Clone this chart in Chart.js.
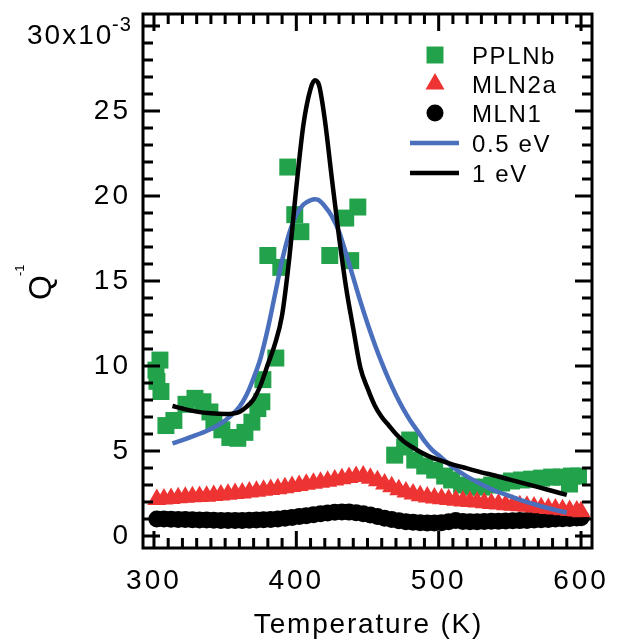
<!DOCTYPE html>
<html>
<head>
<meta charset="utf-8">
<script src="https://cdn.jsdelivr.net/npm/chart.js@4.4.0/dist/chart.umd.min.js"></script>
<style>
  html, body { margin: 0; padding: 0; background: #fff; }
  canvas { display: block; }
</style>
</head>
<body>
<canvas id="chart" width="617" height="643"></canvas>
<script>
// Internal friction Q^-1 (x10^-3) vs temperature (K)

// PPLNb (green squares)
const pplnbT = [301.4, 304.2, 302.1, 304.9, 308.4, 314.0, 322.5, 328.8, 334.4, 339.3, 342.1, 347.7, 353.3, 358.9,
  363.9, 368.8, 373.0, 375.8, 376.5, 385.6, 380.0, 389.1, 394.0, 398.9, 403.2, 423.5, 434.7, 438.2, 443.2,
  469.1, 476.1, 479.6, 483.2, 490.2, 497.2, 504.2, 509.1, 516.1, 523.2, 530.2, 537.2, 544.2, 551.2, 558.2,
  565.3, 572.3, 579.3, 586.3, 591.9, 593.3, 598.2];
const pplnbQ = [9.76, 10.35, 9.1, 8.5, 6.5, 6.8, 7.75, 8.1, 7.9, 7.3, 6.7, 6.25, 5.8, 5.75,
  6.1, 6.7, 7.5, 7.9, 9.2, 10.47, 16.5, 15.8, 21.7, 18.9, 17.9, 16.5, 18.7, 16.2, 19.35,
  4.76, 5.24, 5.65, 4.47, 4.12, 3.88, 3.53, 3.3, 3.0, 2.88, 2.88, 3.0, 3.12, 3.24, 3.3,
  3.35, 3.41, 3.47, 3.47, 3.06, 3.53, 3.53];

// MLN2a (red triangles)
const mln2aT = [302, 307, 312, 317, 322, 327, 332, 337, 342, 347, 352, 357, 362, 367, 372, 377, 382, 387, 392, 397,
  402, 407, 412, 417, 422, 427, 432, 437, 442, 447, 452, 457, 462, 467, 472, 477, 482, 487, 492, 497,
  502, 507, 512, 517, 522, 527, 532, 537, 542, 547, 552, 557, 562, 567, 572, 577, 582, 587, 592, 597, 600];
const mln2aQ = [2.15, 2.18, 2.21, 2.25, 2.28, 2.31, 2.33, 2.35, 2.38, 2.42, 2.46, 2.5, 2.54, 2.59, 2.64, 2.69, 2.74, 2.79, 2.84, 2.91,
  2.98, 3.05, 3.11, 3.17, 3.23, 3.3, 3.37, 3.44, 3.51, 3.53, 3.4, 3.25, 3.07, 2.9, 2.73, 2.59, 2.47, 2.37, 2.3, 2.24,
  2.19, 2.15, 2.11, 2.07, 2.04, 2.0, 1.96, 1.92, 1.88, 1.85, 1.82, 1.79, 1.75, 1.71, 1.67, 1.63, 1.59, 1.55, 1.51, 1.47, 1.43];

// MLN1 (black circles)
const mln1T = [302, 307, 312, 317, 322, 327, 332, 337, 342, 347, 352, 357, 362, 367, 372, 377, 382, 387, 392, 397,
  402, 407, 412, 417, 422, 427, 432, 437, 442, 447, 452, 457, 462, 467, 472, 477, 482, 487, 492, 497,
  502, 507, 512, 517, 522, 527, 532, 537, 542, 547, 552, 557, 562, 567, 572, 577, 582, 587, 592, 597, 600];
const mln1Q = [1.0, 1.0, 0.99, 0.98, 0.97, 0.96, 0.95, 0.94, 0.93, 0.92, 0.92, 0.92, 0.92, 0.93, 0.94, 0.96, 0.98, 1.01, 1.05, 1.1,
  1.15, 1.2, 1.26, 1.31, 1.36, 1.4, 1.42, 1.41, 1.38, 1.32, 1.24, 1.15, 1.05, 0.97, 0.9, 0.85, 0.81, 0.78, 0.77, 0.77,
  0.79, 0.84, 0.92, 0.86, 0.84, 0.85, 0.86, 0.87, 0.88, 0.89, 0.9, 0.91, 0.92, 0.94, 0.96, 0.98, 1.0, 1.02, 1.04, 1.06, 1.08];

// 0.5 eV fit (blue line)
const fit05T = [313, 320, 330, 340, 350, 360, 365, 370, 375, 380, 385, 390, 395, 400, 405, 410, 413, 415, 420, 425,
  430, 435, 440, 445, 450, 455, 460, 465, 470, 475, 480, 485, 490, 495, 500, 510, 520, 530, 540, 550, 560, 570, 580, 590];
const fit05Q = [5.45, 5.65, 5.95, 6.3, 6.8, 7.6, 8.3, 9.3, 10.5, 12.2, 14.2, 16.2, 17.8, 18.9, 19.5, 19.75, 19.8, 19.78, 19.4, 18.8,
  17.9, 16.6, 15.2, 13.8, 12.5, 11.3, 10.2, 9.2, 8.3, 7.5, 6.8, 6.2, 5.6, 5.1, 4.75, 4.05, 3.5, 3.05, 2.65, 2.35, 2.05, 1.8, 1.58, 1.38];

// 1 eV fit (black line)
const fit1T = [313, 320, 330, 340, 350, 355, 360, 365, 370, 375, 380, 385, 390, 395, 400, 405, 410, 413, 416, 420,
  425, 430, 435, 440, 445, 450, 455, 460, 465, 470, 475, 480, 485, 490, 495, 500, 510, 520, 530, 540, 550, 560, 570, 580, 590];
const fit1Q = [7.65, 7.5, 7.32, 7.22, 7.18, 7.2, 7.3, 7.6, 8.05, 8.9, 10.1, 11.3, 13.0, 16.3, 20.5, 24.2, 26.3, 26.8, 26.5, 24.5,
  21.0, 17.6, 14.6, 12.2, 9.9, 8.7, 7.7, 7.0, 6.5, 6.0, 5.6, 5.3, 5.05, 4.82, 4.63, 4.48, 4.2, 3.98, 3.75, 3.55, 3.32, 3.1, 2.88, 2.65, 2.42];

const xTicks = [300, 400, 500, 600];
const yTicks = [0, 5, 10, 15, 20, 25, 30];

const FONT = '"Liberation Sans", Arial, Helvetica, sans-serif';
const GREEN = '#22a34b';
const RED = '#ee3333';
const BLUE = '#4a6fbd';

function toPoints(xs, ys) {
    return xs.map((x, i) => ({ x: x, y: ys[i] }));
}

// fixed axis boxes so the plot frame lands where the original has it
function fixBox(scale, size) {
    if (scale.isHorizontal()) {
        scale.height = size;
    } else {
        scale.width = size;
    }
    scale.paddingTop = 0;
    scale.paddingBottom = 0;
    scale.paddingLeft = 0;
    scale.paddingRight = 0;
}

const legendItems = [
    { text: 'PPLNb', kind: 'point', style: 'rect', radius: 12, color: GREEN },
    { text: 'MLN2a', kind: 'point', style: 'triangle', radius: 11, color: RED },
    { text: 'MLN1', kind: 'point', style: 'circle', radius: 8.5, color: '#000' },
    { text: '0.5 eV', kind: 'line', color: BLUE },
    { text: '1 eV', kind: 'line', color: '#000' }
];

// frame, inward ticks, titles and legend
const framePlugin = {
    id: 'framePlugin',
    beforeDraw(chart) {
        chart.ctx.letterSpacing = '3px';
    },
    afterDraw(chart) {
        const ctx = chart.ctx;
        const area = chart.chartArea;
        const xs = chart.scales.x;
        const ys = chart.scales.y;
        ctx.save();
        ctx.strokeStyle = '#000';
        ctx.lineWidth = 3;
        ctx.strokeRect(area.left, area.top, area.right - area.left, area.bottom - area.top);

        ctx.beginPath();
        for (let t = 300; t <= 600; t += 10) {
            const px = xs.getPixelForValue(t);
            const len = t % 100 === 0 ? 17 : 10;
            ctx.moveTo(px, area.bottom);
            ctx.lineTo(px, area.bottom - len);
            ctx.moveTo(px, area.top);
            ctx.lineTo(px, area.top + len);
        }
        for (let v = 0; v <= 30; v += 1) {
            const py = ys.getPixelForValue(v);
            const len = v % 5 === 0 ? 17 : 10;
            ctx.moveTo(area.left, py);
            ctx.lineTo(area.left + len, py);
            ctx.moveTo(area.right, py);
            ctx.lineTo(area.right - len, py);
        }
        ctx.stroke();

        ctx.fillStyle = '#000';
        ctx.textBaseline = 'alphabetic';

        // top y label with exponent
        ctx.textAlign = 'left';
        ctx.letterSpacing = '2px';
        ctx.font = '28px ' + FONT;
        ctx.fillText('30x10', 27, 44);
        ctx.font = '20px ' + FONT;
        ctx.letterSpacing = '1px';
        ctx.fillText('-3', 112, 31);

        // x title
        ctx.font = '28px ' + FONT;
        ctx.letterSpacing = '1.8px';
        ctx.textAlign = 'center';
        ctx.fillText('Temperature (K)', (area.left + area.right) / 2 + 1, 633);

        // y title
        ctx.save();
        ctx.translate(51, 300);
        ctx.rotate(-Math.PI / 2);
        ctx.textAlign = 'left';
        ctx.letterSpacing = '0px';
        ctx.font = '32px ' + FONT;
        ctx.fillText('Q', 0, 0);
        ctx.font = '13px ' + FONT;
        ctx.fillText('-1', 24, -27);
        ctx.restore();

        // legend
        const rows = [55, 84, 113, 143, 173];
        ctx.font = '24px ' + FONT;
        ctx.letterSpacing = '1.6px';
        ctx.textAlign = 'left';
        legendItems.forEach((item, i) => {
            const y = rows[i];
            if (item.kind === 'point') {
                ctx.fillStyle = item.color;
                ctx.strokeStyle = item.color;
                Chart.helpers.drawPoint(ctx, { pointStyle: item.style, radius: item.radius, rotation: 0, borderWidth: 0 }, 435, y);
            } else {
                ctx.strokeStyle = item.color;
                ctx.lineWidth = 4.5;
                ctx.beginPath();
                ctx.moveTo(410, y);
                ctx.lineTo(459, y);
                ctx.stroke();
            }
            ctx.fillStyle = '#000';
            ctx.fillText(item.text, 472, y + 8.5);
        });
        ctx.restore();
    }
};

const tickFont = { family: FONT, size: 28 };

new Chart(document.getElementById('chart'), {
    type: 'scatter',
    data: {
        datasets: [
            {
                label: '1 eV',
                data: toPoints(fit1T, fit1Q),
                showLine: true,
                borderColor: '#000',
                borderWidth: 4.5,
                pointRadius: 0,
                cubicInterpolationMode: 'monotone'
            },
            {
                label: '0.5 eV',
                data: toPoints(fit05T, fit05Q),
                showLine: true,
                borderColor: BLUE,
                borderWidth: 4.5,
                pointRadius: 0,
                cubicInterpolationMode: 'monotone'
            },
            {
                label: 'MLN2a',
                data: toPoints(mln2aT, mln2aQ),
                pointStyle: 'triangle',
                pointRadius: 11,
                backgroundColor: RED,
                borderColor: RED,
                borderWidth: 0
            },
            {
                label: 'MLN1',
                data: toPoints(mln1T, mln1Q),
                pointStyle: 'circle',
                pointRadius: 8.5,
                backgroundColor: '#000',
                borderColor: '#000',
                borderWidth: 0
            },
            {
                label: 'PPLNb',
                data: toPoints(pplnbT, pplnbQ),
                pointStyle: 'rect',
                pointRadius: 12,
                backgroundColor: GREEN,
                borderColor: GREEN,
                borderWidth: 0
            }
        ]
    },
    options: {
        responsive: false,
        animation: false,
        devicePixelRatio: 1,
        events: [],
        layout: { padding: { top: 14, right: 25, bottom: 0, left: 0 } },
        plugins: {
            legend: { display: false },
            tooltip: { enabled: false }
        },
        scales: {
            x: {
                type: 'linear',
                min: 292.3,
                max: 607.7,
                afterBuildTicks: scale => { scale.ticks = xTicks.map(v => ({ value: v })); },
                afterFit: scale => fixBox(scale, 95),
                grid: { display: false, drawTicks: false },
                border: { display: false },
                ticks: { font: tickFont, color: '#000', padding: 16, maxRotation: 0, autoSkip: false }
            },
            y: {
                type: 'linear',
                min: -0.7,
                max: 30.7,
                afterBuildTicks: scale => { scale.ticks = yTicks.map(v => ({ value: v })); },
                afterFit: scale => fixBox(scale, 143),
                grid: { display: false, drawTicks: false },
                border: { display: false },
                ticks: {
                    font: tickFont,
                    color: '#000',
                    padding: 12,
                    autoSkip: false,
                    callback: value => (value === 30 ? '' : String(value))
                }
            }
        }
    },
    plugins: [framePlugin]
});
</script>
</body>
</html>
